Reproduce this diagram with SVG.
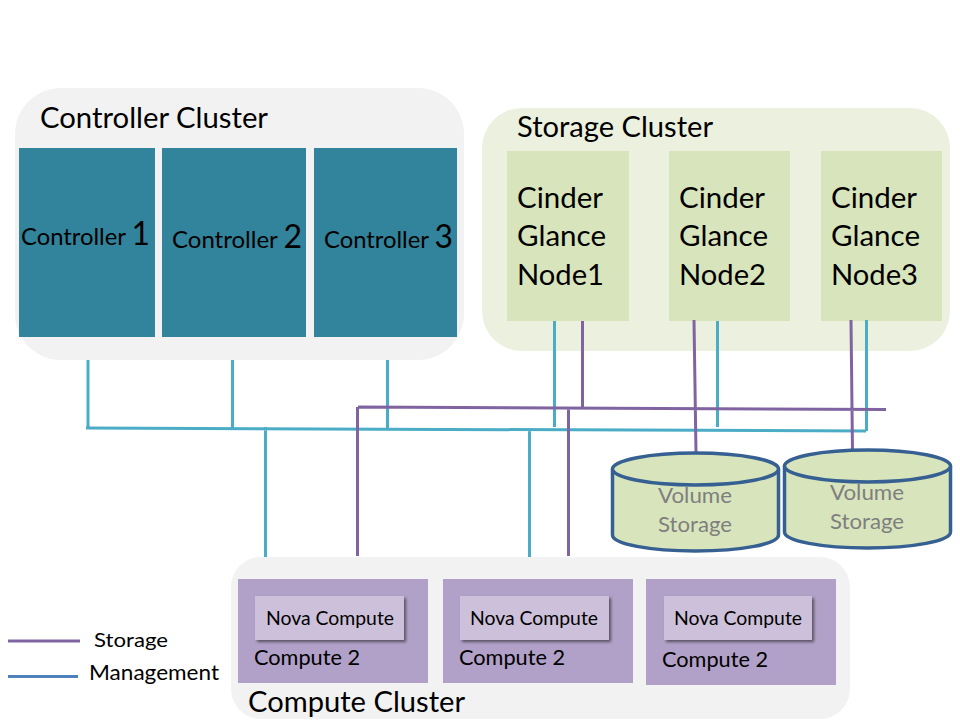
<svg xmlns="http://www.w3.org/2000/svg" width="960" height="720" viewBox="0 0 960 720">
<style>
text{font-family:"Lato","Open Sans","Liberation Sans",sans-serif;fill:#000}
.ctl{fill:#31849b}
.sn{fill:#d8e4bc}
.cp{fill:#b1a0c7}
.nova{fill:#ccc0da;filter:url(#sh)}
.m{stroke:#4bacc6;stroke-width:3;fill:none}
.s{stroke:#8064a2;stroke-width:3;fill:none}
.cyl{fill:#d8e4bc;stroke:#366092;stroke-width:3.5}
.vol{fill:#7f7f7f;font-size:22px;text-anchor:middle}
.t27{font-size:29px}
.c{font-size:24px}
.d{font-size:32px}
.t19{font-size:21px}
.t18{font-size:20px}
</style>
<defs><filter id="sh" x="-10%" y="-20%" width="125%" height="150%"><feDropShadow dx="2" dy="2" stdDeviation="1.500" flood-color="#000" flood-opacity=".5"/></filter></defs>
<rect width="960" height="720" fill="#fff"/>
<g id="controller-cluster">
<rect x="15" y="88" width="449" height="272" rx="46" fill="#f2f2f2"/>
<text x="40" y="128" class="t27" textLength="228" lengthAdjust="spacingAndGlyphs">Controller Cluster</text>
</g>
<g id="controller-1"><rect class="ctl" x="19" y="148" width="136" height="189"/><text x="21" y="245" class="c" textLength="129" lengthAdjust="spacingAndGlyphs">Controller <tspan class="d">1</tspan></text></g>
<g id="controller-2"><rect class="ctl" x="162" y="148" width="144" height="189"/><text x="172" y="248" class="c" textLength="130" lengthAdjust="spacingAndGlyphs">Controller <tspan class="d">2</tspan></text></g>
<g id="controller-3"><rect class="ctl" x="314" y="148" width="143" height="189"/><text x="324" y="248" class="c" textLength="129" lengthAdjust="spacingAndGlyphs">Controller <tspan class="d">3</tspan></text></g>
<g id="storage-cluster">
<rect x="482" y="108" width="468" height="243" rx="40" fill="#ebf1de"/>
<text x="517" y="137" class="t27" textLength="196" lengthAdjust="spacingAndGlyphs">Storage Cluster</text>
</g>
<g id="storage-node-1"><rect class="sn" x="507" y="151" width="122" height="170"/><text x="517" y="208" class="t27" textLength="86" lengthAdjust="spacingAndGlyphs">Cinder</text><text x="517" y="246" class="t27" textLength="89" lengthAdjust="spacingAndGlyphs">Glance</text><text x="517" y="285" class="t27" textLength="87" lengthAdjust="spacingAndGlyphs">Node1</text></g>
<g id="storage-node-2"><rect class="sn" x="669" y="151" width="121" height="170"/><text x="679" y="208" class="t27" textLength="86" lengthAdjust="spacingAndGlyphs">Cinder</text><text x="679" y="246" class="t27" textLength="89" lengthAdjust="spacingAndGlyphs">Glance</text><text x="679" y="285" class="t27" textLength="87" lengthAdjust="spacingAndGlyphs">Node2</text></g>
<g id="storage-node-3"><rect class="sn" x="821" y="151" width="121" height="170"/><text x="831" y="208" class="t27" textLength="86" lengthAdjust="spacingAndGlyphs">Cinder</text><text x="831" y="246" class="t27" textLength="89" lengthAdjust="spacingAndGlyphs">Glance</text><text x="831" y="285" class="t27" textLength="87" lengthAdjust="spacingAndGlyphs">Node3</text></g>
<g id="compute-cluster">
<rect x="231" y="557" width="619" height="162" rx="30" fill="#f2f2f2"/>
<text x="248" y="712" class="t27" textLength="217" lengthAdjust="spacingAndGlyphs">Compute Cluster</text>
</g>
<g id="compute-1"><rect class="cp" x="238" y="579" width="190" height="104"/><rect class="nova" x="255" y="596" width="149" height="44"/><text x="266" y="625" class="t18" textLength="128" lengthAdjust="spacingAndGlyphs">Nova Compute</text><text x="254" y="665" class="t19" textLength="106" lengthAdjust="spacingAndGlyphs">Compute 2</text></g>
<g id="compute-2"><rect class="cp" x="443" y="579" width="190" height="104"/><rect class="nova" x="460" y="596" width="149" height="44"/><text x="470" y="625" class="t18" textLength="128" lengthAdjust="spacingAndGlyphs">Nova Compute</text><text x="459" y="665" class="t19" textLength="106" lengthAdjust="spacingAndGlyphs">Compute 2</text></g>
<g id="compute-3"><rect class="cp" x="646" y="579" width="190" height="106"/><rect class="nova" x="664" y="596" width="148" height="44"/><text x="674" y="625" class="t18" textLength="128" lengthAdjust="spacingAndGlyphs">Nova Compute</text><text x="662" y="667" class="t19" textLength="106" lengthAdjust="spacingAndGlyphs">Compute 2</text></g>
<g id="connectors">
<path class="m" d="M88 360V428M232.500 360V429M387.500 360V430M86 428L866 431M265.500 427V557M529.500 430V557M554.500 321V427M717.500 321V427M866.500 320V431"/>
<path class="s" d="M358 407L886 409.500M357.500 407V556M568.500 408V556M582.500 321V408M694 320L696 453M851 320L852.500 451"/>
</g>
<g id="volume-storage-1">
<path class="cyl" d="M612.500 469V535C612.500 544 650 551 695.500 551S778.500 544 778.500 535V469"/>
<ellipse class="cyl" cx="695.500" cy="469" rx="83" ry="16"/>
<text class="vol" x="695" y="503" textLength="74" lengthAdjust="spacingAndGlyphs">Volume</text>
<text class="vol" x="695" y="532" textLength="74" lengthAdjust="spacingAndGlyphs">Storage</text>
</g>
<g id="volume-storage-2">
<path class="cyl" d="M784.500 466V532C784.500 541 822 548 867.500 548S950.500 541 950.500 532V466"/>
<ellipse class="cyl" cx="867.500" cy="466" rx="83" ry="16"/>
<text class="vol" x="867" y="500" textLength="74" lengthAdjust="spacingAndGlyphs">Volume</text>
<text class="vol" x="867" y="529" textLength="74" lengthAdjust="spacingAndGlyphs">Storage</text>
</g>
<g id="legend">
<line x1="8" y1="641" x2="80" y2="641" stroke="#8064a2" stroke-width="3"/>
<line x1="8" y1="676.500" x2="78" y2="676.500" stroke="#4f81bd" stroke-width="3"/>
<text x="94" y="647" class="t18" textLength="74" lengthAdjust="spacingAndGlyphs">Storage</text>
<text x="89" y="680" class="t19" textLength="130" lengthAdjust="spacingAndGlyphs">Management</text>
</g>
</svg>
